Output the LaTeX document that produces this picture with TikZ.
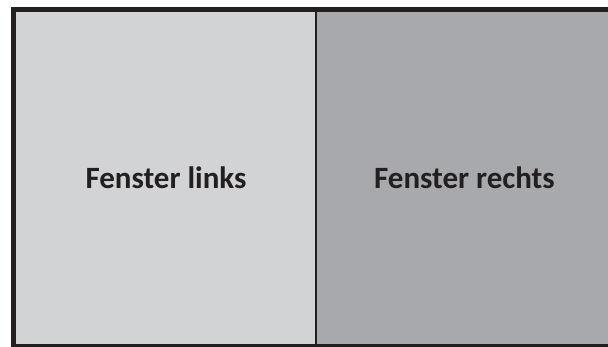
\documentclass[tikz,border=0pt]{standalone}
\usepackage{fontspec}
\setsansfont{Carlito}
\usetikzlibrary{positioning}

\definecolor{framedark}{RGB}{35,31,32}
\definecolor{leftgray}{RGB}{209,211,212}
\definecolor{rightgray}{RGB}{167,169,172}

\begin{document}
\begin{tikzpicture}[
    x=1pt, y=1pt,
    every node/.style={font=\sffamily\bfseries\fontsize{31}{37}\selectfont, text=framedark},
]
\tikzset{
    panel/.style={
        minimum height=332pt,
        inner sep=0pt,
        outer sep=0pt,
    },
}
\useasboundingbox (0,0) rectangle (608,347);

% Two window halves
\node[panel, fill=leftgray, minimum width=300pt, anchor=north west] (links) at (16,335) {Fenster links};
\node[panel, fill=rightgray, minimum width=297pt, right=0pt of links] (rechts) {Fenster rechts};

% Divider and outer frame
\draw[framedark, line width=1.5pt] (links.north east) -- (links.south east);
\draw[framedark, line width=5pt]
    ([shift={(-2.5,2.5)}]links.north west) rectangle ([shift={(2.5,-2.5)}]rechts.south east);
\end{tikzpicture}
\end{document}
